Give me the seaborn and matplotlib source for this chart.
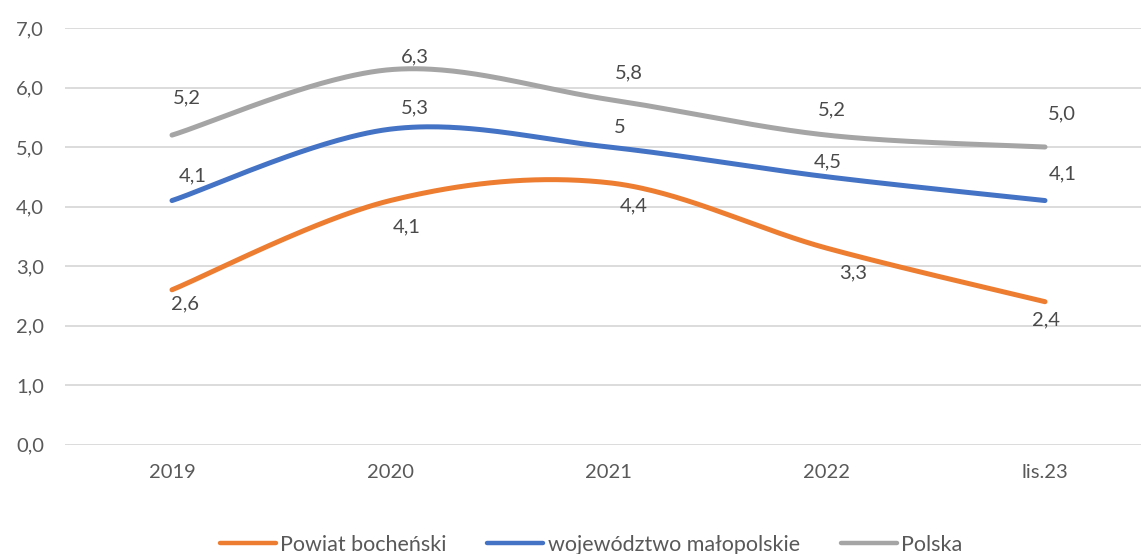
import numpy as np
import pandas as pd
import matplotlib
matplotlib.use("Agg")
import matplotlib.pyplot as plt
from matplotlib.ticker import FuncFormatter
from matplotlib.lines import Line2D
import seaborn as sns

# ---- data ----
categories = ["2019", "2020", "2021", "2022", "lis.23"]
powiat = [2.6, 4.1, 4.4, 3.3, 2.4]
malopolskie = [4.1, 5.3, 5.0, 4.5, 4.1]
polska = [5.2, 6.3, 5.8, 5.2, 5.0]
series_names = ["Powiat bocheński", "województwo małopolskie", "Polska"]
powiat_labels = ["2,6", "4,1", "4,4", "3,3", "2,4"]
malopolskie_labels = ["4,1", "5,3", "5", "4,5", "4,1"]
polska_labels = ["5,2", "6,3", "5,8", "5,2", "5,0"]

# ---- styling ----
colors = ["#ED7D31", "#4472C4", "#A5A5A5"]
# label offsets in points (dx, dy) relative to the data point
off_powiat = [(9, -10), (12, -19), (18, -17), (19, -18), (1, -13)]
off_malo = [(15, 18), (18, 15), (8, 14), (1, 11), (13, 19)]
off_polska = [(11, 27), (18, 9), (15, 19), (4, 18), (12, 24)]

sns.set_theme(style="white")
plt.rcParams["font.family"] = ["Lato", "DejaVu Sans"]

fig = plt.figure(figsize=(11.41, 5.54), dpi=100)
ax = fig.add_axes([65 / 1141, 1 - 444.5 / 554, 1 - 65 / 1141, (444.5 - 28) / 554])


def smooth(xs, ys, n=60):
    """Excel-like smoothed line (Catmull-Rom Bezier)."""
    P = np.column_stack([xs, ys]).astype(float)
    m = len(P)
    out = []
    for i in range(m - 1):
        p0 = P[max(i - 1, 0)]
        p1 = P[i]
        p2 = P[i + 1]
        p3 = P[min(i + 2, m - 1)]
        c1 = p1 + (p2 - p0) / 6.0
        c2 = p2 - (p3 - p1) / 6.0
        t = np.linspace(0, 1, n)[:, None]
        seg = ((1 - t) ** 3) * p1 + 3 * ((1 - t) ** 2) * t * c1 + 3 * (1 - t) * t ** 2 * c2 + t ** 3 * p2
        out.append(seg if i == 0 else seg[1:])
    return np.vstack(out)


xpos = np.arange(len(categories))
all_series = [powiat, malopolskie, polska]
all_labels = [powiat_labels, malopolskie_labels, polska_labels]
all_offsets = [off_powiat, off_malo, off_polska]

ax.set_ylim(0, 7)
ax.set_xlim(-(172 - 65) / 218.25, 4 + (1141 - 1045) / 218.25)
ax.set_yticks(np.arange(0, 7.01, 1.0))
ax.yaxis.grid(True, color="#D9D9D9", linewidth=1.3)
ax.xaxis.grid(False)
ax.set_axisbelow(True)

for name, vals, col in zip(series_names, all_series, colors):
    curve = smooth(xpos, vals)
    df = pd.DataFrame({"x": curve[:, 0], "y": curve[:, 1]})
    sns.lineplot(data=df, x="x", y="y", ax=ax, color=col, linewidth=3.6,
                 sort=False, estimator=None, solid_capstyle="round")

for vals, labs, offs in zip(all_series, all_labels, all_offsets):
    for xi, v, lab, (dx, dy) in zip(xpos, vals, labs, offs):
        ax.annotate(lab, (xi, v), xytext=(dx, dy), textcoords="offset points",
                    ha="center", va="center", fontsize=14.5, color="#4a4a4a")

ax.set_xticks(xpos)
ax.set_xticklabels(categories)
ax.yaxis.set_major_formatter(FuncFormatter(lambda v, p: f"{v:.1f}".replace(".", ",")))
ax.tick_params(axis="both", length=0, labelsize=14.5, labelcolor="#595959")
ax.tick_params(axis="x", pad=14)
ax.tick_params(axis="y", pad=15)
ax.set_xlabel("")
ax.set_ylabel("")
for s in ax.spines.values():
    s.set_visible(False)

handles = [Line2D([0], [0], color=c, linewidth=3.2, solid_capstyle="round") for c in colors]
fig.legend(handles, series_names, loc="center", bbox_to_anchor=(591 / 1141, 1 - 545 / 554),
           ncol=3, frameon=False, fontsize=15.5, labelcolor="#595959",
           handlelength=2.6, handletextpad=0.2, columnspacing=1.9)

fig.savefig("out.png", dpi=100)
